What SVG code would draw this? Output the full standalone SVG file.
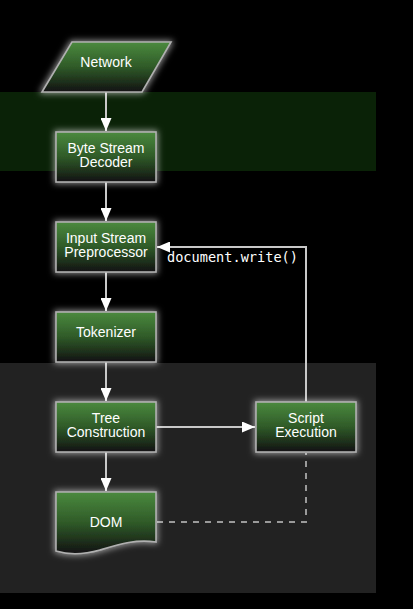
<svg xmlns="http://www.w3.org/2000/svg" width="413" height="609" viewBox="0 0 413 609">
<defs>
<linearGradient id="g" x1="0" y1="0" x2="0" y2="1">
<stop offset="0" stop-color="#4b8a3e"/>
<stop offset="0.5" stop-color="#2f5a28"/>
<stop offset="1" stop-color="#121212"/>
</linearGradient>
<filter id="halo" x="-30%" y="-30%" width="160%" height="160%">
<feMorphology in="SourceAlpha" operator="dilate" radius="1" result="d"/>
<feGaussianBlur in="d" stdDeviation="3" result="b"/>
<feFlood flood-color="#ffffff" flood-opacity="0.55"/>
<feComposite operator="in" in2="b" result="w"/>
<feMerge><feMergeNode in="w"/><feMergeNode in="SourceGraphic"/></feMerge>
</filter>
<marker id="arr" viewBox="0 0 13 11" refX="13" refY="5.5" markerWidth="13" markerHeight="11" markerUnits="userSpaceOnUse" orient="auto">
<path d="M0,0 L13,5.5 L0,11 Z" fill="#ffffff"/>
</marker>
</defs>
<style>
.node{fill:url(#g);stroke:#b0b0b0;stroke-width:1.6;filter:url(#halo)}
.lbl{font-family:"Liberation Sans",Arial,sans-serif;font-size:14px;fill:#ffffff;text-anchor:middle}
.edge{fill:none;stroke:#c8c8c8;stroke-width:2}
.dash{fill:none;stroke:#9a9a9a;stroke-width:2;stroke-dasharray:6,6}
.mono{font-family:"DejaVu Sans Mono",monospace;font-size:13.6px;fill:#ffffff}
</style>
<rect x="0" y="0" width="413" height="609" fill="#000000"/>
<rect x="0" y="92" width="376" height="79" fill="#0a2207"/>
<rect x="0" y="363" width="376" height="230" fill="#222222"/>

<g id="connectors">
<path class="edge" d="M106,92 V131" marker-end="url(#arr)"/>
<path class="edge" d="M106,182 V221" marker-end="url(#arr)"/>
<path class="edge" d="M106,272 V311" marker-end="url(#arr)"/>
<path class="edge" d="M106,362 V401" marker-end="url(#arr)"/>
<path class="edge" d="M106,452 V491" marker-end="url(#arr)"/>
<path class="edge" d="M156,427 H255" marker-end="url(#arr)"/>
<path class="edge" d="M306,402 V247 H157" marker-end="url(#arr)"/>
<path class="dash" d="M157,522 H306 V453"/>
<text class="mono" x="167" y="262">document.write()</text>
</g>

<g id="network">
<path class="node" d="M72,42 H171 L142,92 H42 Z"/>
<text class="lbl" x="106" y="67">Network</text>
</g>
<g id="byte-stream-decoder">
<rect class="node" x="56" y="132" width="100" height="50"/>
<text class="lbl" x="106" y="152.5">Byte Stream</text>
<text class="lbl" x="106" y="167">Decoder</text>
</g>
<g id="input-stream-preprocessor">
<rect class="node" x="56" y="222" width="100" height="50"/>
<text class="lbl" x="106" y="242.5">Input Stream</text>
<text class="lbl" x="106" y="257">Preprocessor</text>
</g>
<g id="tokenizer">
<rect class="node" x="56" y="312" width="100" height="50"/>
<text class="lbl" x="106" y="337">Tokenizer</text>
</g>
<g id="tree-construction">
<rect class="node" x="56" y="402" width="100" height="50"/>
<text class="lbl" x="106" y="422.5">Tree</text>
<text class="lbl" x="106" y="437">Construction</text>
</g>
<g id="script-execution">
<rect class="node" x="256" y="402" width="100" height="50"/>
<text class="lbl" x="306" y="422.5">Script</text>
<text class="lbl" x="306" y="437">Execution</text>
</g>
<g id="dom">
<path class="node" d="M56,492 H156 V542 C136,539 120,544 100,550 C82,555 66,554 56,551 Z"/>
<text class="lbl" x="106" y="527">DOM</text>
</g>
</svg>
